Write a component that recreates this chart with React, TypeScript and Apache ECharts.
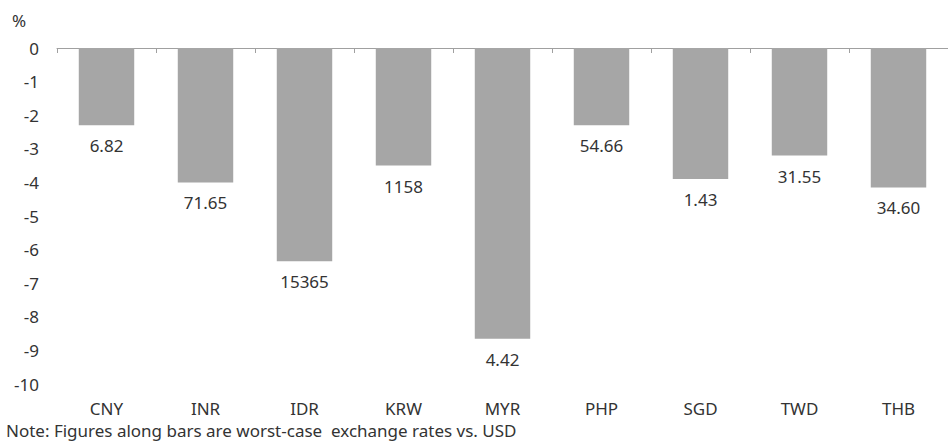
import React, { useEffect, useRef } from "react";
import * as echarts from "echarts";

const categories = ["CNY", "INR", "IDR", "KRW", "MYR", "PHP", "SGD", "TWD", "THB"];
const changePct = [-2.3, -4.0, -6.35, -3.5, -8.65, -2.3, -3.9, -3.2, -4.15];
const worstCaseRates = ["6.82", "71.65", "15365", "1158", "4.42", "54.66", "1.43", "31.55", "34.60"];
const yMin = -10;
const yMax = 0;
const unitLabel = "%";
const note = "Note: Figures along bars are worst-case  exchange rates vs. USD";

const FONT = "'Noto Sans', sans-serif";
const TEXT = "#333333";

export default function App() {
  const ref = useRef<HTMLDivElement>(null);
  useEffect(() => {
    if (!ref.current) return;
    const chart = echarts.init(ref.current, undefined, { renderer: "svg" });
    chart.setOption({
      animation: false,
      textStyle: { fontFamily: FONT },
      grid: { left: 57, top: 48, width: 900, height: 336 },
      xAxis: [
        {
          type: "category",
          data: categories,
          position: "bottom",
          axisLine: { show: false },
          axisTick: { show: false },
          axisLabel: { fontSize: 17, color: TEXT, margin: 16, fontFamily: FONT },
        },
        {
          type: "category",
          data: categories,
          position: "top",
          axisLine: { show: true, lineStyle: { color: "#a0a0a0", width: 1 } },
          axisTick: { show: true, inside: true, length: 5, lineStyle: { color: "#a0a0a0" } },
          axisLabel: { show: false },
        },
      ],
      yAxis: {
        type: "value",
        min: yMin,
        max: yMax,
        interval: 1,
        axisLine: { show: false },
        axisTick: { show: false },
        splitLine: { show: false },
        axisLabel: { fontSize: 17, color: TEXT, margin: 18, fontFamily: FONT },
      },
      series: [
        {
          type: "bar",
          xAxisIndex: 0,
          data: changePct,
          barWidth: "56%",
          itemStyle: { color: "#a6a6a6" },
          label: {
            show: true,
            position: "bottom",
            distance: 12,
            fontSize: 17,
            color: TEXT,
            fontFamily: FONT,
            formatter: (p: any) => worstCaseRates[p.dataIndex],
          },
        },
      ],
      graphic: [
        {
          type: "text",
          left: 12,
          top: 12,
          style: { text: unitLabel, fontSize: 17, fill: TEXT, fontFamily: FONT },
        },
        {
          type: "text",
          left: 6,
          top: 422,
          style: { text: note, fontSize: 17, fill: TEXT, fontFamily: FONT },
        },
      ],
    });
    return () => chart.dispose();
  }, []);
  return (
    <div
      ref={ref}
      style={{ position: "fixed", left: 0, top: 0, width: 948, height: 443, background: "#fff" }}
    />
  );
}
